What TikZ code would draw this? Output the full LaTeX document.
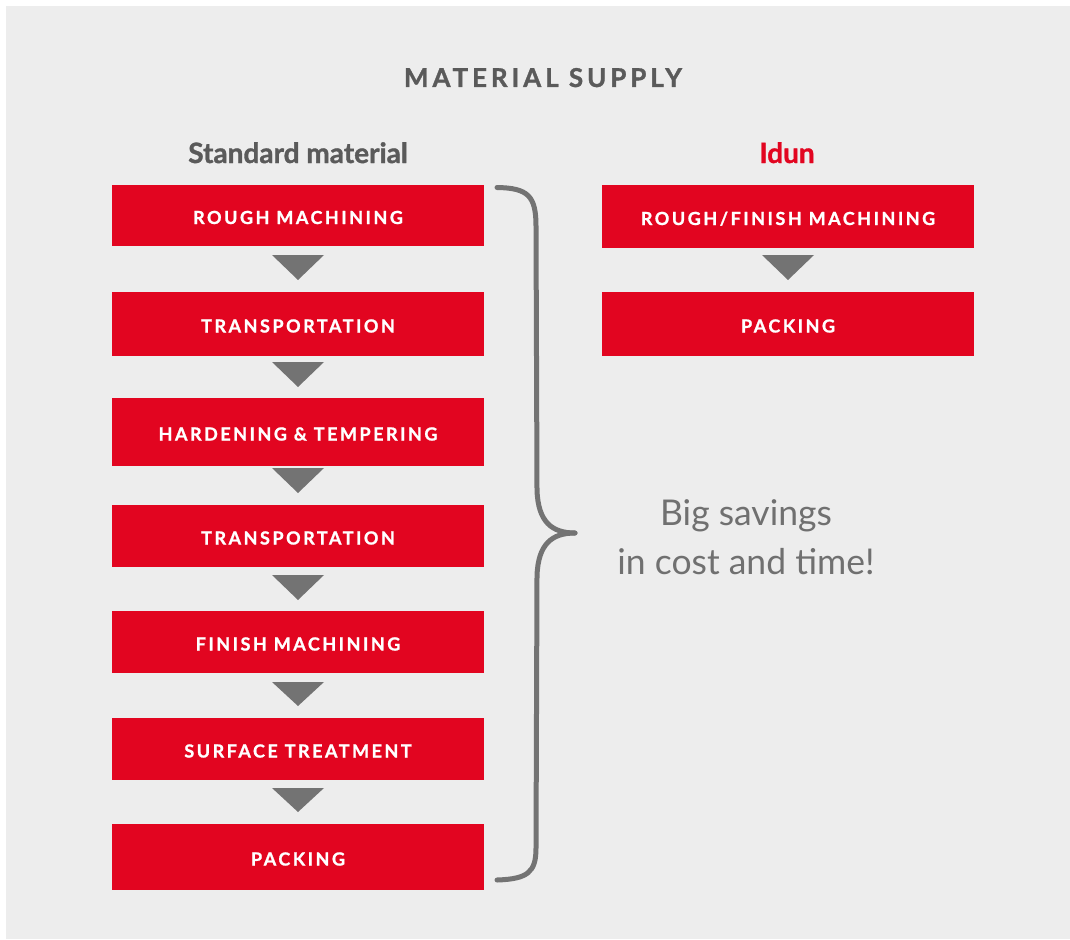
\documentclass[tikz,border=0pt]{standalone}
\usepackage{fontspec}
\setmainfont{Lato}
\newfontfamily\boxfont[LetterSpace=14,FakeBold=1.2]{Lato Bold}
\newfontfamily\titlefont[LetterSpace=15,FakeBold=1.2]{Lato Bold}
\newfontfamily\headfont[FakeBold=1.2]{Lato Bold}
\newfontfamily\bigfont{Lato}
\definecolor{bg}{HTML}{EDEDED}
\definecolor{idred}{HTML}{E20520}
\definecolor{txtgray}{HTML}{5A5A5A}
\definecolor{trigray}{HTML}{737373}
\definecolor{savegray}{HTML}{707070}
\tikzset{
  stepbox/.style={fill=idred, draw=none, text=white, font=\boxfont\fontsize{18}{21}\selectfont, inner sep=0pt},
  tri/.style={fill=trigray, draw=none},
  brace/.style={draw=trigray, line width=5pt, line cap=round},
  head/.style={anchor=base, text=txtgray, font=\headfont\fontsize{28}{32}\selectfont},
  save/.style={anchor=base, text=savegray, font=\bigfont\fontsize{35.5}{40}\selectfont},
}
\newcommand{\stepnode}[6]{% name, x1, y1, x2, y2, text
  \path[stepbox] (#2,#3) rectangle (#4,#5);
  \node[stepbox, fill=none, anchor=base] (#1) at ({(#2+#4)/2},{(#3+#5)/2+8.5}) {#6};
}
\newcommand{\downtri}[3]{% xc, ytop, ybot
  \fill[tri] (#1-26,#2) -- (#1+26,#2) -- (#1,#3) -- cycle;
}
\begin{document}
\begin{tikzpicture}[x=1pt, y=-1pt]
\useasboundingbox (0,0) rectangle (1070,939);
\fill[white] (0,0) rectangle (1070,939);
\fill[bg] (6,6) rectangle (1070,939);
% title
\node[anchor=base, text=txtgray, font=\titlefont\fontsize{26}{30}\selectfont] (title) at (543,87) {MATERIAL SUPPLY};
% headings
\node[head] (std) at (298,163) {Standard material};
\node[head, text=idred] (idun) at (787,163) {Idun};
% left column
\stepnode{s1}{112}{185}{484}{246}{ROUGH MACHINING}
\downtri{298}{255}{280}
\stepnode{s2}{112}{292}{484}{356}{TRANSPORTATION}
\downtri{298}{362}{387}
\stepnode{s3}{112}{398}{484}{466}{HARDENING \& TEMPERING}
\downtri{298}{468}{493}
\stepnode{s4}{112}{505}{484}{567}{TRANSPORTATION}
\downtri{298}{575}{600}
\stepnode{s5}{112}{611}{484}{673}{FINISH MACHINING}
\downtri{298}{682}{706}
\stepnode{s6}{112}{718}{484}{780}{SURFACE TREATMENT}
\downtri{298}{788}{812}
\stepnode{s7}{112}{824}{484}{890}{PACKING}
% right column
\stepnode{r1}{602}{185}{974}{248}{ROUGH/FINISH MACHINING}
\downtri{788}{255}{280}
\stepnode{r2}{602}{292}{974}{356}{PACKING}
% brace
\coordinate (btop) at (497,187.5);
\coordinate (btip) at (575,533);
\coordinate (bbot) at (497,880);
\draw[brace] (btop) .. controls (528,188) and (536,196) .. (536,226)
  -- (537,490) .. controls (538,522) and (552,533) .. (btip);
\draw[brace] (btip) .. controls (552,533) and (538,544) .. (537,576)
  -- (536,848) .. controls (536,872) and (528,879) .. (bbot);
% savings text
\node[save] (sav1) at (746,525) {Big savings};
\node[save] (sav2) at (746,574) {in cost and time!};
\end{tikzpicture}
\end{document}
